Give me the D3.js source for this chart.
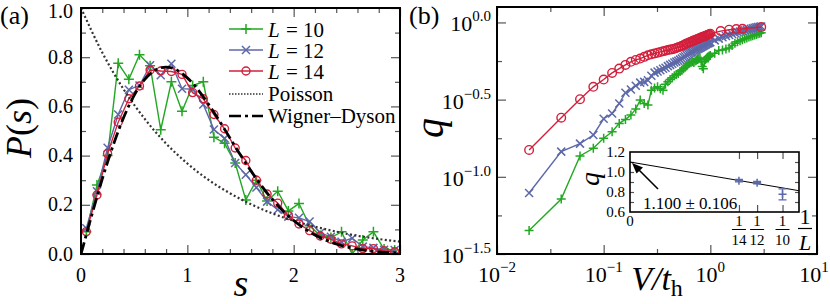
<!DOCTYPE html>
<html>
<head>
<meta charset="utf-8">
<script src="https://cdn.jsdelivr.net/npm/d3@7"></script>
<style>
body { margin: 0; background: #fff; }
</style>
</head>
<body>
<div id="chart"></div>
<script>
// ---- panel (a): level spacing distribution ----
var sBins = [0.05,0.15,0.25,0.35,0.45,0.55,0.65,0.75,0.85,0.95,
             1.05,1.15,1.25,1.35,1.45,1.55,1.65,1.75,1.85,1.95,
             2.05,2.15,2.25,2.35,2.45,2.55,2.65,2.75,2.85,2.95];
var pL10 = [0.09,0.28,0.40,0.775,0.71,0.81,0.765,0.505,0.70,0.58,
            0.685,0.70,0.475,0.45,0.37,0.22,0.30,0.215,0.255,0.175,
            0.205,0.115,0.075,0.067,0.09,0.0,0.057,0.09,0.02,0.016];
var pL12 = [0.105,0.255,0.432,0.567,0.668,0.685,0.767,0.727,0.773,0.672,
            0.67,0.608,0.506,0.47,0.37,0.322,0.27,0.213,0.18,0.152,
            0.147,0.132,0.086,0.07,0.05,0.064,0.03,0.025,0.017,0.016];
var pL14 = [0.091,0.24,0.408,0.536,0.631,0.683,0.748,0.744,0.742,0.73,
            0.656,0.631,0.567,0.509,0.431,0.38,0.30,0.244,0.207,0.156,
            0.122,0.095,0.073,0.06,0.041,0.033,0.022,0.022,0.013,0.009];
var sPoisson = [0,0.2,0.4,0.6,0.8,1.0,1.2,1.4,1.6,1.8,2.0,2.2,2.4,2.6,2.8,3.0];
var pPoisson = [1,0.819,0.670,0.549,0.449,0.368,0.301,0.247,0.202,0.165,0.135,0.111,0.091,0.074,0.061,0.050];
var sWD = [0,0.1,0.2,0.3,0.4,0.5,0.6,0.7,0.8,0.9,1.0,1.1,1.2,1.3,1.4,1.5,1.6,1.7,1.8,1.9,2.0,2.2,2.4,2.6,2.8,3.0];
var pWD = [0,0.156,0.305,0.439,0.554,0.645,0.710,0.748,0.760,0.748,0.716,0.668,0.608,0.542,0.472,0.402,0.337,0.276,0.222,0.175,0.136,0.077,0.041,0.020,0.009,0.004];
var aXTicks = [0,1,2,3];
var aYTicks = [0,0.2,0.4,0.6,0.8,1.0];

// ---- panel (b): q versus V/t_h (log10 q) ----
var vLow = [0.02,0.04,0.06,0.08,0.10,0.12,0.14,0.16,0.18,0.20,
            0.22,0.24,0.26,0.28,0.30,0.32,0.34,0.36,0.38,0.40,
            0.42,0.44,0.46,0.48,0.50,0.52,0.54,0.56,0.58,0.60,
            0.62,0.64,0.66,0.68,0.70,0.72,0.74,0.76,0.78,0.80,
            0.82,0.84,0.86,0.88,0.90,0.92,0.94,0.96,0.98,1.00];
var vHigh = [1.1,1.2,1.3,1.4,1.5,1.6,1.7,1.8,1.9,2.0,
             2.1,2.2,2.3,2.4,2.5,2.6,2.7,2.8,2.9,3.0];
var vHighL14 = [1.25,1.5,1.75,2.0,3.0];
var qExpL10 = [-1.348,-1.144,-0.865,-0.815,-0.750,-0.708,-0.654,-0.628,-0.600,-0.560,
               -0.503,-0.525,-0.535,-0.439,-0.425,-0.417,-0.430,-0.439,-0.400,-0.385,
               -0.370,-0.358,-0.345,-0.338,-0.330,-0.318,-0.310,-0.300,-0.290,-0.280,
               -0.270,-0.262,-0.258,-0.255,-0.260,-0.250,-0.245,-0.240,-0.236,-0.232,
               -0.250,-0.285,-0.300,-0.255,-0.240,-0.232,-0.226,-0.222,-0.218,-0.214,
               -0.200,-0.182,-0.178,-0.172,-0.165,-0.150,-0.135,-0.125,-0.118,-0.112,
               -0.106,-0.100,-0.095,-0.090,-0.086,-0.082,-0.078,-0.074,-0.070,-0.066];
var qExpL12 = [-1.105,-0.837,-0.785,-0.729,-0.624,-0.590,-0.525,-0.455,-0.434,-0.410,
               -0.390,-0.385,-0.375,-0.345,-0.325,-0.318,-0.310,-0.300,-0.293,-0.283,
               -0.275,-0.268,-0.260,-0.254,-0.248,-0.241,-0.234,-0.226,-0.219,-0.211,
               -0.204,-0.199,-0.194,-0.189,-0.184,-0.180,-0.176,-0.172,-0.168,-0.164,
               -0.160,-0.156,-0.152,-0.148,-0.144,-0.140,-0.137,-0.134,-0.131,-0.128,
               -0.116,-0.105,-0.096,-0.088,-0.081,-0.075,-0.069,-0.064,-0.059,-0.055,
               -0.051,-0.047,-0.044,-0.041,-0.038,-0.035,-0.032,-0.030,-0.028,-0.026];
var qExpL14 = [-0.826,-0.617,-0.497,-0.417,-0.370,-0.327,-0.299,-0.275,-0.255,-0.243,
               -0.234,-0.223,-0.213,-0.206,-0.201,-0.196,-0.191,-0.187,-0.183,-0.179,
               -0.176,-0.173,-0.170,-0.166,-0.161,-0.157,-0.152,-0.147,-0.142,-0.137,
               -0.133,-0.129,-0.125,-0.121,-0.117,-0.113,-0.110,-0.107,-0.104,-0.101,
               -0.098,-0.095,-0.093,-0.090,-0.088,-0.085,-0.082,-0.079,-0.076,-0.073,
               -0.056,-0.047,-0.043,-0.041,-0.030];
var bXTickExp = [-2,-1,0,1];
var bXMinorExp = [-1.5,-0.5,0.5];
var bYTickExp = [-1.5,-1.0,-0.5,0.0];
var bYMinorExp = [-1.25,-0.75,-0.25];

// ---- inset: extrapolation in 1/L ----
var invL = [1/14, 1/12, 1/10];
var invLLabels = ["14", "12", "10"];
var qInset = [0.913, 0.893, 0.777];
var qInsetErr = [0.012, 0.012, 0.055];
var fitX = [0, 0.1108];
var fitQ = [1.100, 0.813];
var insetYTicks = [0.6,0.8,1.0,1.2];

var colL10 = "#22a822", colL12 = "#5d68a8", colL14 = "#d21f3c";
var serif = "Liberation Serif";

var width = 830, height = 304;
var svg = d3.select("#chart").append("svg").attr("width", width).attr("height", height);

function label(g, x, y, size, str) {
  return g.append("text").attr("x", x).attr("y", y).attr("font-family", serif)
    .attr("font-size", size).attr("fill", "#000").text(str === undefined ? null : str);
}

function addTicks(g, scale, orient, pos, values, size) {
  var make = {bottom: d3.axisBottom, top: d3.axisTop, left: d3.axisLeft, right: d3.axisRight}[orient];
  var axis = make(scale).tickValues(values).tickSize(-size).tickFormat("");
  var t = (orient === "bottom" || orient === "top") ? "translate(0," + pos + ")" : "translate(" + pos + ",0)";
  var a = g.append("g").attr("transform", t).call(axis);
  a.select(".domain").remove();
  a.selectAll("line").attr("stroke", "#555").attr("stroke-width", 1.2);
}

function markerPath(type, x, y, r) {
  if (type === "plus") return "M" + (x - r) + "," + y + "H" + (x + r) + "M" + x + "," + (y - r) + "V" + (y + r);
  return "M" + (x - r) + "," + (y - r) + "L" + (x + r) + "," + (y + r) + "M" + (x - r) + "," + (y + r) + "L" + (x + r) + "," + (y - r);
}

function drawSeries(g, pts, color, type, r) {
  g.append("path").datum(pts)
    .attr("d", d3.line().x(function(d) { return d[0]; }).y(function(d) { return d[1]; }))
    .attr("fill", "none").attr("stroke", color).attr("stroke-width", 1.4);
  if (type === "circle") {
    g.selectAll(null).data(pts).enter().append("circle")
      .attr("cx", function(d) { return d[0]; }).attr("cy", function(d) { return d[1]; })
      .attr("r", r).attr("fill", "none").attr("stroke", color).attr("stroke-width", 1.4);
  } else {
    g.selectAll(null).data(pts).enter().append("path")
      .attr("d", function(d) { return markerPath(type, d[0], d[1], r); })
      .attr("stroke", color).attr("stroke-width", 1.5).attr("fill", "none");
  }
}

// ================= panel (a) =================
var ax = d3.scaleLinear().domain([0, 3]).range([81, 400]);
var ay = d3.scaleLinear().domain([0, 1]).range([254, 8]);
var gA = svg.append("g");

gA.append("clipPath").attr("id", "clipA").append("rect")
  .attr("x", 81).attr("y", 8).attr("width", 319).attr("height", 246);

var aXMinor = [0.2,0.4,0.6,0.8,1.2,1.4,1.6,1.8,2.2,2.4,2.6,2.8];
addTicks(gA, ax, "bottom", 254, aXTicks, 9);
addTicks(gA, ax, "top", 8, aXTicks, 9);
addTicks(gA, ax, "bottom", 254, aXMinor, 5);
addTicks(gA, ax, "top", 8, aXMinor, 5);
addTicks(gA, ay, "left", 81, aYTicks, 9);
addTicks(gA, ay, "right", 400, aYTicks, 9);
addTicks(gA, ay, "left", 81, [0.1,0.3,0.5,0.7,0.9], 5);
addTicks(gA, ay, "right", 400, [0.1,0.3,0.5,0.7,0.9], 5);

var plotA = gA.append("g").attr("clip-path", "url(#clipA)");
function ptsA(vals) { return sBins.map(function(s, i) { return [ax(s), ay(vals[i])]; }); }
drawSeries(plotA, ptsA(pL10), colL10, "plus", 5);
drawSeries(plotA, ptsA(pL12), colL12, "cross", 4);
drawSeries(plotA, ptsA(pL14), colL14, "circle", 4);

var curveLine = d3.line().curve(d3.curveMonotoneX);
plotA.append("path")
  .attr("d", curveLine(sPoisson.map(function(s, i) { return [ax(s), ay(pPoisson[i])]; })))
  .attr("fill", "none").attr("stroke", "#333").attr("stroke-width", 2.2).attr("stroke-dasharray", "2,2.4");
plotA.append("path")
  .attr("d", curveLine(sWD.map(function(s, i) { return [ax(s), ay(pWD[i])]; })))
  .attr("fill", "none").attr("stroke", "#000").attr("stroke-width", 2.8).attr("stroke-dasharray", "12,4,3,4");

gA.append("rect").attr("x", 81).attr("y", 8).attr("width", 319).attr("height", 246)
  .attr("fill", "none").attr("stroke", "#000").attr("stroke-width", 2);

aXTicks.forEach(function(v) {
  label(gA, ax(v), 282, 20, v).attr("text-anchor", "middle");
});
aYTicks.forEach(function(v) {
  // the top label sits a little low, clear of the frame edge
  var y = v === 1 ? 18 : ay(v) + 6.5;
  label(gA, 73, y, 20, v.toFixed(1)).attr("text-anchor", "end");
});

// legend
var legendRows = [
  {type: "plus", color: colL10, label: "= 10", y: 29},
  {type: "cross", color: colL12, label: "= 12", y: 50},
  {type: "circle", color: colL14, label: "= 14", y: 71}
];
legendRows.forEach(function(d) {
  gA.append("line").attr("x1", 229).attr("x2", 263).attr("y1", d.y).attr("y2", d.y)
    .attr("stroke", d.color).attr("stroke-width", 1.4);
  if (d.type === "circle") {
    gA.append("circle").attr("cx", 246).attr("cy", d.y).attr("r", 4).attr("fill", "none")
      .attr("stroke", d.color).attr("stroke-width", 1.4);
  } else {
    gA.append("path").attr("d", markerPath(d.type, 246, d.y, d.type === "plus" ? 5 : 4))
      .attr("stroke", d.color).attr("stroke-width", 1.5);
  }
  label(gA, 268, d.y + 8, 21, "L").attr("font-style", "italic");
  label(gA, 286, d.y + 8, 21, d.label);
});
gA.append("line").attr("x1", 229).attr("x2", 263).attr("y1", 94).attr("y2", 94)
  .attr("stroke", "#333").attr("stroke-width", 1.5).attr("stroke-dasharray", "1.5,1.5");
label(gA, 268, 101, 21, "Poisson");
gA.append("line").attr("x1", 229).attr("x2", 263).attr("y1", 116).attr("y2", 116)
  .attr("stroke", "#000").attr("stroke-width", 2.5).attr("stroke-dasharray", "12,4,3,4");
label(gA, 268, 123, 21, "Wigner\u2013Dyson");

// labels
label(gA, 0, 24, 26, "(a)");
var pl = label(gA, 0, 0, 36).attr("transform", "translate(31,128) rotate(-90)").attr("text-anchor", "middle");
pl.append("tspan").attr("font-style", "italic").text("P");
pl.append("tspan").text("(");
pl.append("tspan").attr("font-style", "italic").text("s");
pl.append("tspan").text(")");
label(gA, 241, 296, 38, "s").attr("text-anchor", "middle").attr("font-style", "italic");

// ================= panel (b) =================
var bx = d3.scaleLog().domain([0.01, 10]).range([497, 817]);
var by = d3.scaleLog().domain([Math.pow(10, -1.5), Math.pow(10, 0.1)]).range([254, 7]);
var gB = svg.append("g");
function p10(e) { return Math.pow(10, e); }

addTicks(gB, bx, "bottom", 254, bXTickExp.map(p10), 9);
addTicks(gB, bx, "top", 7, bXTickExp.map(p10), 9);
addTicks(gB, bx, "bottom", 254, bXMinorExp.map(p10), 5);
addTicks(gB, bx, "top", 7, bXMinorExp.map(p10), 5);
addTicks(gB, by, "left", 497, bYTickExp.map(p10), 9);
addTicks(gB, by, "right", 817, bYTickExp.map(p10), 9);
addTicks(gB, by, "left", 497, bYMinorExp.map(p10), 5);
addTicks(gB, by, "right", 817, bYMinorExp.map(p10), 5);

function ptsB(vs, qe) { return vs.map(function(v, i) { return [bx(v), by(p10(qe[i]))]; }); }
drawSeries(gB, ptsB(vLow.concat(vHigh), qExpL10), colL10, "plus", 4.5);
drawSeries(gB, ptsB(vLow.concat(vHigh), qExpL12), colL12, "cross", 4);
drawSeries(gB, ptsB(vLow.concat(vHighL14), qExpL14), colL14, "circle", 4.3);

gB.append("rect").attr("x", 497).attr("y", 7).attr("width", 320).attr("height", 247)
  .attr("fill", "none").attr("stroke", "#000").attr("stroke-width", 2);

function fmtExp(e) { return (e < 0 ? "\u2212" : "") + Math.abs(e).toFixed(1); }
bYTickExp.forEach(function(e) {
  var t = label(gB, 491, by(p10(e)) + 9, 22).attr("text-anchor", "end");
  t.append("tspan").text("10");
  t.append("tspan").attr("dy", -10).attr("font-size", 15).text(fmtExp(e));
});
bXTickExp.forEach(function(e) {
  // last label would run past the right edge; nudge it in a little
  var x = e === 1 ? bx(p10(e)) - 3 : bx(p10(e));
  var t = label(gB, x, 282, 22).attr("text-anchor", "middle");
  t.append("tspan").text("10");
  t.append("tspan").attr("dy", -10).attr("font-size", 15).text((e < 0 ? "\u2212" : "") + Math.abs(e));
});

label(gB, 409, 24, 26, "(b)");
label(gB, 0, 0, 40, "q").attr("transform", "translate(443,128) rotate(-90)")
  .attr("text-anchor", "middle").attr("font-style", "italic");
var vl = label(gB, 657, 290, 34).attr("text-anchor", "middle");
vl.append("tspan").attr("font-style", "italic").text("V");
vl.append("tspan").attr("font-style", "italic").text("/");
vl.append("tspan").attr("font-style", "italic").text("t");
vl.append("tspan").attr("dy", 6).attr("font-size", 24).text("h");

// ---- inset ----
var ix = d3.scaleLinear().domain([0, 0.1108]).range([630, 799]);
var iy = d3.scaleLinear().domain([0.6, 1.2]).range([212, 152]);
var gI = svg.append("g");
gI.append("rect").attr("x", 630).attr("y", 152).attr("width", 169).attr("height", 60)
  .attr("fill", "#fff").attr("stroke", "none");
addTicks(gI, ix, "top", 152, invL, 7);
addTicks(gI, ix, "bottom", 212, invL, 7);
addTicks(gI, iy, "left", 630, [0.7,0.8,0.9,1.0,1.1], 4);
addTicks(gI, iy, "right", 799, [0.7,0.8,0.9,1.0,1.1], 4);

gI.append("line").attr("x1", ix(fitX[0])).attr("y1", iy(fitQ[0]))
  .attr("x2", ix(fitX[1])).attr("y2", iy(fitQ[1])).attr("stroke", "#000").attr("stroke-width", 1);

invL.forEach(function(x, i) {
  var cx = ix(x), y0 = iy(qInset[i] - qInsetErr[i]), y1 = iy(qInset[i] + qInsetErr[i]);
  gI.append("path").attr("d", "M" + cx + "," + y0 + "V" + y1 + "M" + (cx - 4) + "," + y0 + "H" + (cx + 4) + "M" + (cx - 4) + "," + y1 + "H" + (cx + 4))
    .attr("stroke", colL12).attr("stroke-width", 1.3).attr("fill", "none");
  gI.append("path").attr("d", markerPath("plus", cx, iy(qInset[i]), 4))
    .attr("stroke", colL12).attr("stroke-width", 1.5);
});

// arrow to the intercept
gI.append("line").attr("x1", 658).attr("y1", 189).attr("x2", 636).attr("y2", 167)
  .attr("stroke", "#000").attr("stroke-width", 1.6);
gI.append("path").attr("d", "M632,163 L643,167.5 L636.5,173.5 Z").attr("fill", "#000");
label(gI, 643, 209, 17, "1.100 \u00b1 0.106");

gI.append("rect").attr("x", 630).attr("y", 152).attr("width", 169).attr("height", 60)
  .attr("fill", "none").attr("stroke", "#000").attr("stroke-width", 1.6);

insetYTicks.forEach(function(v) {
  label(gI, 625, iy(v) + 5, 15, v.toFixed(1)).attr("text-anchor", "end");
});
label(gI, 630, 226, 15, "0").attr("text-anchor", "middle");
invL.forEach(function(x, i) {
  var cx = ix(x);
  label(gI, cx, 226, 15, "1").attr("text-anchor", "middle");
  gI.append("line").attr("x1", cx - 7).attr("x2", cx + 7).attr("y1", 229.5).attr("y2", 229.5)
    .attr("stroke", "#000").attr("stroke-width", 1);
  label(gI, cx, 245, 15, invLLabels[i]).attr("text-anchor", "middle");
});
label(gI, 805, 224, 22, "1").attr("text-anchor", "middle");
gI.append("line").attr("x1", 798).attr("x2", 812).attr("y1", 228.5).attr("y2", 228.5)
  .attr("stroke", "#000").attr("stroke-width", 1.2);
label(gI, 805, 250, 22, "L").attr("text-anchor", "middle").attr("font-style", "italic");
label(gI, 0, 0, 28, "q").attr("transform", "translate(599,179) rotate(-90)")
  .attr("text-anchor", "middle").attr("font-style", "italic");
</script>
</body>
</html>
